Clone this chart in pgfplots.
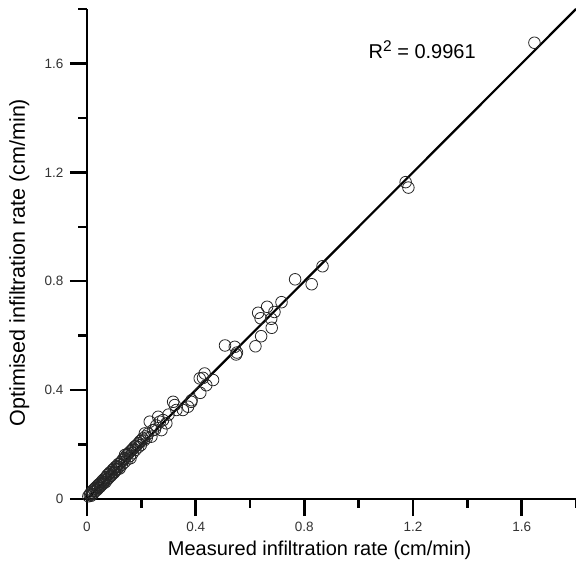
\documentclass[border=0pt]{standalone}
\usepackage{pgfplots}
\pgfplotsset{compat=1.18}
\usepackage{fontspec}
\setmainfont{Liberation Sans}
\begin{document}
\begin{tikzpicture}
\useasboundingbox (-87bp,-65bp) rectangle (489bp,499bp);
\begin{axis}[
  scale only axis,
  width=489bp, height=490bp,
  xmin=0, xmax=1.8, ymin=0, ymax=1.8,
  axis x line=bottom, axis y line=left,
  axis line style={-, line width=2.6bp},
  x axis line style={-, line width=2.6bp},
  y axis line style={-, line width=2.6bp},
  xtick={0,0.4,0.8,1.2,1.6}, ytick={0,0.4,0.8,1.2,1.6},
  minor xtick={0.2,0.6,1.0,1.4,1.8}, minor ytick={0.2,0.6,1.0,1.4,1.8},
  tick align=outside,
  major tick length=17bp, minor tick length=8.5bp,
  tick style={black, line width=2.5bp},
  /pgf/number format/assume math mode=true,
  tick label style={font=\fontsize{13.5bp}{13.5bp}\selectfont, black!80},
  xticklabel style={yshift=-3bp},
  yticklabel style={xshift=-3bp},
  xlabel={Measured infiltration rate (cm/min)},
  ylabel={Optimised infiltration rate (cm/min)},
  xlabel style={font=\fontsize{20bp}{20bp}\selectfont, at={(axis description cs:0.4758,0)}, anchor=base, yshift=-56bp},
  ylabel style={font=\fontsize{21.5bp}{21.5bp}\selectfont, at={([xshift=-62bp]axis description cs:0,0.4827)}, anchor=base},
  clip=false,
]
\addplot[black, line width=2.2bp] coordinates {(0,0) (1.8,1.8)};
\addplot[only marks, mark=o, mark size=5.8bp, mark options={black!85, line width=0.8bp}] coordinates {
(1.647,1.676) (1.173,1.164) (1.183,1.144)
(0.867,0.855) (0.766,0.807) (0.827,0.789) (0.716,0.723) (0.663,0.706)
(0.630,0.684) (0.639,0.664) (0.690,0.687) (0.678,0.662) (0.680,0.629)
(0.641,0.598) (0.620,0.561) (0.508,0.564) (0.544,0.559) (0.552,0.538)
(0.549,0.531) (0.464,0.437) (0.433,0.461) (0.427,0.445) (0.439,0.418)
(0.415,0.443) (0.417,0.390) (0.384,0.357) (0.372,0.339) (0.385,0.363)
(0.317,0.357) (0.323,0.345) (0.329,0.327) (0.353,0.327) (0.300,0.310)
(0.292,0.278) (0.268,0.284) (0.262,0.302) (0.231,0.284) (0.274,0.253)
(0.243,0.253) (0.213,0.241) (0.237,0.229) (0.280,0.290) (0.255,0.270)
(0.250,0.255) (0.225,0.240) (0.220,0.225) (0.215,0.230) (0.210,0.215)
(0.205,0.222) (0.200,0.215) (0.198,0.198) (0.195,0.212) (0.190,0.205)
(0.188,0.190) (0.185,0.200) (0.180,0.195) (0.178,0.180) (0.175,0.192)
(0.170,0.185) (0.168,0.168) (0.165,0.180) (0.160,0.175) (0.158,0.158)
(0.155,0.170) (0.150,0.165) (0.148,0.145) (0.145,0.160) (0.140,0.150)
(0.138,0.135) (0.135,0.148) (0.130,0.142) (0.128,0.125) (0.125,0.135)
(0.120,0.130) (0.118,0.118) (0.115,0.128) (0.112,0.110) (0.110,0.120)
(0.108,0.108) (0.105,0.118) (0.102,0.100) (0.100,0.112) (0.098,0.095)
(0.095,0.108) (0.092,0.090) (0.090,0.100) (0.088,0.085) (0.085,0.098)
(0.082,0.080) (0.080,0.092) (0.078,0.075) (0.075,0.088) (0.072,0.070)
(0.070,0.080) (0.068,0.062) (0.065,0.075) (0.062,0.060) (0.060,0.070)
(0.058,0.055) (0.055,0.065) (0.052,0.050) (0.050,0.058) (0.048,0.045)
(0.045,0.055) (0.042,0.040) (0.040,0.050) (0.038,0.035) (0.035,0.045)
(0.032,0.030) (0.030,0.040) (0.028,0.028) (0.025,0.035) (0.022,0.018)
(0.020,0.030) (0.018,0.025) (0.015,0.012) (0.012,0.020) (0.010,0.015)
(0.005,0.010) (0.160,0.150) (0.140,0.162) (0.120,0.112) (0.100,0.098)
(0.060,0.062) (0.040,0.042)
};
\node[anchor=base west, font=\fontsize{20bp}{20bp}\selectfont] at (axis cs:1.024,1.618) {R\raisebox{0.36em}{\fontsize{15.5bp}{15.5bp}\selectfont 2} = 0.9961};
\end{axis}
\end{tikzpicture}
\end{document}
